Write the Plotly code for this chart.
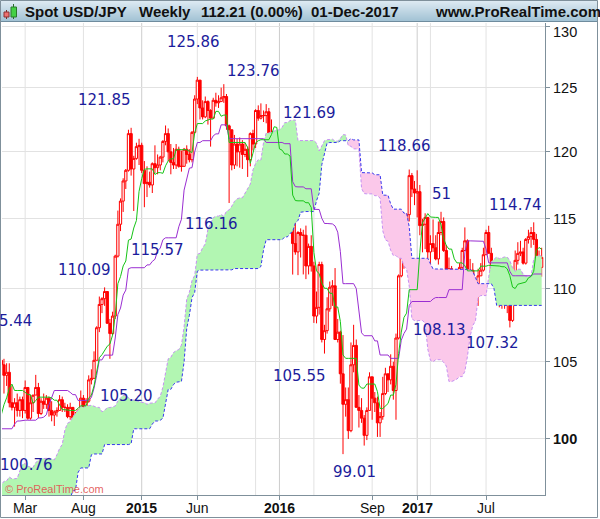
import numpy as np
import pandas as pd
import plotly.graph_objects as go

# Weekly USD/JPY bars, one list per year (weeks listed in order of their Friday close).
# 2012-2013 is off screen but feeds the 52-week Ichimoku lookback.
FIRST_MONDAY = "2012-05-28"
FIRST_OPEN = 78.6

high_2012 = [79.7, 79.6, 79.8, 80.5, 80.6, 80.0, 79.8, 79.2, 78.7, 78.6, 78.7, 79.6, 79.5, 78.9, 79.0, 78.4,
             79.2, 78.3, 78.8, 78.8, 79.4, 80.4, 80.7, 80.4, 81.6, 82.8, 82.6, 82.8, 84.3, 84.6, 86.6]
low_2012 = [77.65, 78.0, 78.5, 78.7, 79.2, 79.6, 78.9, 78.3, 77.9, 78.0, 78.2, 78.2, 78.4, 78.2, 78.2, 77.1,
            77.9, 77.4, 77.9, 78.0, 78.4, 79.2, 79.6, 79.1, 79.4, 81.0, 81.7, 81.7, 82.3, 83.3, 84.2]
close_2012 = [78.3, 79.6, 78.7, 80.4, 79.8, 79.6, 79.1, 78.5, 78.2, 78.4, 78.3, 79.5, 78.6, 78.3, 78.3, 78.3,
              78.1, 77.9, 78.7, 78.4, 79.3, 79.8, 80.0, 79.5, 81.3, 82.4, 82.5, 82.4, 83.5, 84.2, 85.9]

high_2013 = [88.4, 89.3, 90.3, 91.0, 92.8, 94.1, 94.4, 94.0, 94.8, 96.6, 96.7, 95.8, 95.1, 97.8, 99.9, 99.5,
             99.9, 99.3, 101.6, 103.3, 103.74, 102.5, 101.3, 97.9, 98.3, 99.2, 101.5, 101.5, 100.9, 100.6,
             99.9, 99.2, 98.3, 98.8, 99.2, 100.2, 100.6, 99.8, 99.5, 98.6, 98.6, 98.9, 98.5, 98.8, 99.1,
             100.4, 101.4, 102.6, 103.4, 103.7, 104.6, 105.4]
low_2013 = [85.8, 87.1, 88.0, 88.1, 90.3, 92.2, 92.2, 92.6, 90.85, 92.5, 95.0, 94.1, 93.4, 92.6, 97.6, 96.8,
            97.6, 97.1, 98.8, 101.0, 100.7, 100.4, 94.99, 93.79, 93.9, 96.7, 99.1, 98.3, 99.2, 98.3,
            97.6, 95.8, 96.4, 96.8, 96.8, 98.0, 98.9, 97.8, 98.0, 97.1, 96.9, 97.6, 97.2, 97.3, 97.6,
            98.9, 99.8, 101.0, 101.6, 102.2, 102.8, 104.0]
close_2013 = [88.1, 89.2, 90.0, 90.8, 92.7, 92.7, 93.5, 93.4, 93.6, 96.0, 95.3, 94.5, 94.2, 97.6, 99.6, 99.4,
              98.0, 99.0, 101.6, 103.2, 101.0, 100.5, 97.5, 94.1, 97.9, 99.1, 101.2, 99.2, 100.6, 98.3,
              98.9, 96.3, 97.5, 98.7, 98.1, 99.2, 99.4, 99.3, 98.3, 97.5, 98.6, 97.7, 97.4, 98.6, 99.0,
              100.2, 101.3, 102.4, 102.9, 103.2, 104.1, 105.1]

high_2014 = [105.44, 105.2, 104.9, 104.9, 103.4, 102.6, 102.9, 102.7, 102.7, 103.76, 103.3, 102.8, 102.7,
             104.13, 103.6, 102.6, 102.9, 102.8, 102.7, 102.4, 101.8, 102.0, 102.8, 102.7, 102.3, 102.2,
             102.3, 102.0, 101.7, 101.9, 103.1, 102.8, 102.6, 104.1, 104.5, 105.7, 107.4, 109.45, 109.4,
             110.09, 109.8, 107.9, 108.4, 112.4, 115.6, 116.5, 118.0, 118.7, 121.7, 121.85, 119.7, 120.7]
low_2014 = [104.1, 102.9, 103.4, 102.0, 101.8, 100.76, 101.4, 101.4, 101.3, 101.6, 101.2, 101.2, 101.7,
            102.8, 101.3, 101.5, 101.9, 101.9, 101.4, 101.1, 100.8, 101.4, 101.8, 101.7, 101.7, 101.3,
            101.2, 101.1, 101.1, 101.1, 101.8, 101.5, 102.0, 102.3, 103.5, 103.9, 105.1, 107.0, 108.3,
            108.8, 107.6, 105.20, 106.8, 107.9, 112.2, 114.1, 115.5, 117.2, 118.5, 118.2, 115.57, 119.4]
close_2014 = [104.8, 104.1, 104.3, 102.3, 102.0, 102.3, 101.8, 102.5, 101.8, 103.3, 101.3, 102.3, 102.8,
              103.3, 101.6, 102.4, 102.2, 102.6, 101.8, 101.5, 101.7, 101.8, 102.5, 102.0, 102.0, 101.4,
              102.0, 101.3, 101.3, 101.8, 102.6, 102.0, 102.4, 103.8, 103.9, 105.1, 107.3, 108.9, 109.3,
              109.8, 107.6, 106.9, 108.1, 112.3, 114.6, 116.3, 117.8, 118.6, 121.4, 118.7, 119.5, 120.4]

high_2015 = [121.0, 120.7, 119.3, 118.9, 118.5, 119.2, 120.5, 119.8, 119.7, 120.9, 122.03, 121.8, 120.6,
             120.3, 120.6, 120.4, 120.1, 120.3, 120.5, 120.2, 121.6, 124.4, 125.86, 125.1, 124.0, 124.3,
             124.0, 123.3, 124.2, 124.6, 124.4, 125.0, 125.28, 124.5, 122.1, 121.7, 121.3, 121.0, 121.1,
             120.9, 120.7, 120.4, 121.5, 121.7, 123.3, 123.6, 123.76, 123.2, 123.7, 123.4, 122.5, 121.5]
low_2015 = [119.0, 118.4, 115.85, 116.6, 117.3, 116.9, 118.4, 118.3, 118.6, 119.2, 120.5, 119.3, 118.3,
            118.7, 118.7, 118.8, 118.5, 118.9, 119.1, 119.2, 119.2, 121.4, 123.7, 122.5, 122.5, 122.6,
            122.1, 120.4, 122.6, 123.5, 123.4, 123.9, 123.8, 121.7, 116.16, 118.6, 118.7, 118.9, 118.8,
            118.7, 119.6, 118.1, 118.9, 120.1, 120.3, 122.4, 122.5, 122.3, 122.2, 120.6, 120.3, 120.2]
close_2015 = [120.5, 118.6, 117.6, 117.7, 117.5, 119.1, 118.8, 119.0, 119.6, 120.8, 121.4, 120.0, 119.2,
              119.0, 120.2, 118.9, 118.9, 120.2, 119.8, 119.4, 121.5, 124.1, 125.6, 123.4, 122.7, 123.9,
              123.2, 122.6, 124.0, 123.8, 123.9, 124.2, 124.3, 122.0, 121.7, 119.0, 120.6, 120.0, 120.6,
              119.8, 120.2, 119.4, 121.4, 120.6, 123.2, 122.6, 122.8, 122.8, 123.1, 120.9, 121.4, 120.3]

high_2016 = [120.7, 120.6, 118.3, 118.9, 121.69, 121.0, 117.5, 114.9, 114.1, 114.3, 114.2, 114.5, 113.2,
             113.8, 111.9, 109.8, 111.9, 111.9, 107.5, 109.4, 110.5, 110.6, 111.45, 107.9, 107.1, 106.8,
             103.3, 103.3, 106.3, 107.5, 106.5, 102.8, 102.6, 101.5, 102.0, 104.3, 104.0, 103.0, 102.7,
             101.7, 104.0, 104.6, 104.2, 105.5, 105.0, 106.9, 111.0, 113.9, 114.8, 115.4, 118.66, 118.4, 117.8]
low_2016 = [120.0, 116.7, 116.5, 115.97, 118.2, 116.5, 110.99, 112.4, 110.95, 112.2, 111.0, 110.67, 111.0,
            111.2, 107.63, 107.6, 108.2, 106.3, 105.55, 106.9, 108.4, 108.8, 106.5, 106.3, 103.55, 99.01,
            101.4, 99.97, 100.4, 104.3, 102.0, 100.7, 101.0, 99.55, 99.9, 101.8, 101.2, 101.7, 100.1,
            100.1, 101.2, 102.8, 103.0, 103.5, 102.5, 101.2, 106.5, 110.8, 111.4, 112.9, 114.8, 116.6, 116.0]
close_2016 = [120.2, 117.3, 117.0, 118.8, 121.1, 116.8, 113.2, 112.6, 114.0, 113.8, 113.8, 111.6, 113.0,
              111.6, 108.1, 108.7, 111.7, 106.5, 107.1, 108.6, 110.1, 110.2, 106.5, 107.0, 104.2, 102.2,
              102.5, 100.5, 104.8, 106.1, 102.0, 101.8, 101.3, 100.2, 101.8, 104.0, 102.6, 102.3, 101.0,
              101.4, 102.9, 104.2, 103.8, 104.7, 103.1, 106.6, 110.9, 113.2, 113.5, 115.3, 118.2, 117.2, 116.9]

high_2017 = [118.6, 117.5, 115.0, 115.4, 115.1, 113.8, 114.95, 113.8, 114.8, 115.51, 115.1, 113.1, 112.2,
             111.6, 111.3, 109.6, 111.8, 112.9, 114.37, 113.5, 112.1, 111.8, 110.4, 111.4, 111.8, 112.9,
             114.2, 114.49, 112.9, 111.9, 111.0, 110.9, 110.9, 109.8, 110.7, 110.3, 111.0, 112.7, 113.3,
             113.4, 112.9, 113.6, 114.2, 114.4, 114.74, 113.9, 112.7, 112.9]
low_2017 = [115.1, 113.8, 112.57, 112.8, 112.1, 111.6, 112.6, 112.0, 111.7, 113.8, 112.6, 110.6, 110.1,
            110.1, 108.7, 108.13, 109.1, 111.0, 112.7, 110.2, 110.9, 110.4, 109.1, 108.8, 110.9, 111.2,
            112.4, 112.5, 111.0, 110.6, 109.9, 108.7, 108.6, 108.6, 108.3, 107.32, 107.7, 110.7, 111.7,
            112.3, 111.7, 111.7, 113.2, 112.9, 113.1, 112.0, 111.1, 110.84]
close_2017 = [117.0, 114.5, 114.6, 115.1, 112.6, 113.2, 112.9, 112.1, 114.0, 114.8, 112.7, 111.3, 111.4,
              111.1, 108.7, 109.3, 111.5, 112.7, 113.4, 111.3, 111.3, 110.4, 110.3, 110.9, 111.3, 112.4,
              114.0, 112.5, 111.1, 110.7, 110.7, 109.2, 109.2, 109.4, 110.3, 107.8, 110.8, 112.0, 112.5,
              112.6, 111.8, 113.5, 113.7, 114.0, 113.5, 112.1, 111.5, 112.21]

# swing labels printed on the chart
label_texts = ["121.85", "125.86", "123.76", "121.69", "118.66", "51", "114.74", "5.44", "110.09",
               "115.57", "116.16", "105.20", "100.76", "105.55", "99.01", "108.13", "107.32"]

y_ticks = [100, 105, 110, 115, 120, 125, 130]
x_tick_dates = ["2014-03-03", "2014-08-04", "2015-01-05", "2015-06-01", "2016-01-04", "2016-09-05",
                "2017-01-02", "2017-07-03"]
x_tick_text = ["Mar", "Aug", "<b>2015</b>", "Jun", "<b>2016</b>", "Sep", "<b>2017</b>", "Jul"]
x_minor_grid = ["2015-11-02", "2016-04-04", "2017-02-06"]

highs = high_2012 + high_2013 + high_2014 + high_2015 + high_2016 + high_2017
lows = low_2012 + low_2013 + low_2014 + low_2015 + low_2016 + low_2017
closes = close_2012 + close_2013 + close_2014 + close_2015 + close_2016 + close_2017
opens = [FIRST_OPEN] + closes[:-1]  # FX weekly bars open where the previous week closed
dates = pd.date_range(FIRST_MONDAY, periods=len(closes), freq="W-MON")

df = pd.DataFrame({"date": dates, "open": opens, "high": highs, "low": lows, "close": closes})
tenkan = (df.high.rolling(9).max() + df.low.rolling(9).min()) / 2
kijun = (df.high.rolling(26).max() + df.low.rolling(26).min()) / 2
span_a = ((tenkan + kijun) / 2).shift(26)
span_b = ((df.high.rolling(52).max() + df.low.rolling(52).min()) / 2).shift(26)

# ---- pixel geometry of the ProRealTime frame
W, H = 600, 519
PL, PR, PT, PB = 2, 545, 23, 495


def px(x):
    return (x - PL) / (PR - PL)


def py(y):
    return (PB - y) / (PB - PT)


GREEN_FILL = "rgba(178,246,178,1)"
PINK_FILL = "rgba(251,200,234,1)"
LABEL_BLUE = "#1c1c9c"
AXIS_GREY = "#7f909b"
TICK_FONT = {"family": "Liberation Sans, Arial", "size": 14, "color": "#111"}

fig = go.Figure()

# cloud, one filled band per run of same-sign span difference
vis = (df.date >= "2013-12-16") & span_a.notna() & span_b.notna()
cd = df.date[vis].reset_index(drop=True)
ca = span_a[vis].reset_index(drop=True)
cb = span_b[vis].reset_index(drop=True)
above = ca >= cb
runs = (above != above.shift()).cumsum()
for _, idx in above.groupby(runs).groups.items():
    i0, i1 = idx.min(), min(idx.max() + 1, len(cd) - 1)
    color = GREEN_FILL if above[i0] else PINK_FILL
    fig.add_trace(go.Scatter(x=cd[i0:i1 + 1], y=cb[i0:i1 + 1], mode="lines", line={"width": 0},
                             hoverinfo="skip", showlegend=False))
    fig.add_trace(go.Scatter(x=cd[i0:i1 + 1], y=ca[i0:i1 + 1], mode="lines", line={"width": 0},
                             fill="tonexty", fillcolor=color, hoverinfo="skip", showlegend=False))

fig.add_trace(go.Scatter(x=cd, y=ca, mode="lines", line={"color": "#c690f2", "width": 1, "dash": "3px,2px"},
                         showlegend=False))
fig.add_trace(go.Scatter(x=cd, y=cb, mode="lines", line={"color": "#3838ee", "width": 1, "dash": "3px,2px"},
                         showlegend=False))

fig.add_trace(
    go.Candlestick(
        x=df.date, open=df.open, high=df.high, low=df.low, close=df.close,
        increasing={"line": {"color": "#ff0000", "width": 1}, "fillcolor": "#ffffff"},
        decreasing={"line": {"color": "#ff0000", "width": 1}, "fillcolor": "#ff0000"},
        whiskerwidth=0, showlegend=False,
    )
)
fig.add_trace(go.Scatter(x=df.date, y=kijun, mode="lines", line={"color": "#9a2ed2", "width": 1}, showlegend=False))
fig.add_trace(go.Scatter(x=df.date, y=tenkan, mode="lines", line={"color": "#16c416", "width": 1}, showlegend=False))

shapes = []
# vertical grid, year lines a shade darker
for d in x_tick_dates + x_minor_grid:
    col = "#cdcdcd" if d[5:7] == "01" else "#e2e2e2"
    shapes.append(dict(type="line", xref="x", yref="paper", x0=d, x1=d, y0=0, y1=1,
                       line={"color": col, "width": 1}, layer="below"))

# header bar with a vertical gradient
top_rgb, bot_rgb = np.array([224, 236, 244]), np.array([163, 195, 213])
for k in range(21):
    c = (top_rgb + (bot_rgb - top_rgb) * k / 20).astype(int)
    shapes.append(dict(type="rect", xref="paper", yref="paper", x0=px(0), x1=px(598), y0=py(k + 1), y1=py(k),
                       fillcolor=f"rgb({c[0]},{c[1]},{c[2]})", line={"width": 0}, layer="above"))
shapes.append(dict(type="line", xref="paper", yref="paper", x0=px(0), x1=px(598), y0=py(21.5), y1=py(21.5),
                   line={"color": "#6f8c9e", "width": 1}))
# little candle icon
shapes += [
    dict(type="line", xref="paper", yref="paper", x0=px(6.5), x1=px(6.5), y0=py(19), y1=py(10),
         line={"color": "#7a2a2a", "width": 1}),
    dict(type="rect", xref="paper", yref="paper", x0=px(4), x1=px(9), y0=py(17), y1=py(12),
         fillcolor="#ee7070", line={"color": "#8a3030", "width": 1}),
    dict(type="line", xref="paper", yref="paper", x0=px(13.5), x1=px(13.5), y0=py(19), y1=py(4),
         line={"color": "#2a6a2a", "width": 1}),
    dict(type="rect", xref="paper", yref="paper", x0=px(11), x1=px(16.5), y0=py(17), y1=py(7),
         fillcolor="#44d044", line={"color": "#2a7a2a", "width": 1}),
]
# outer frame
shapes.append(dict(type="rect", xref="paper", yref="paper", x0=px(0.5), x1=px(597.5), y0=py(517.5), y1=py(0.5),
                   line={"color": AXIS_GREY, "width": 1}, fillcolor="rgba(0,0,0,0)"))

annotations = []
header = [("<b>Spot USD/JPY</b>", 23), ("<b>Weekly</b>", 137), ("<b>112.21 (0.00%)</b>", 199),
          ("<b>01-Dec-2017</b>", 309), ("<b>www.ProRealTime.com</b>", 433)]
for text, x in header:
    annotations.append(dict(text=text, x=px(x), y=py(11.5), xref="paper", yref="paper", xanchor="left",
                            yanchor="middle", showarrow=False,
                            font={"family": "Liberation Sans, Arial", "size": 15, "color": "#111"}))

label_pos = [(104, 100), (193, 42), (253, 71), (309, 113), (404, 146), (441, 194), (515, 205), (15, 321),
             (84, 270), (157, 250), (211, 224), (126, 396), (26, 465), (299, 376), (354, 472), (439, 330),
             (492, 343)]
for text, (x, y) in zip(label_texts, label_pos):
    annotations.append(dict(text=text, x=px(x), y=py(y), xref="paper", yref="paper", xanchor="center",
                            yanchor="middle", showarrow=False,
                            font={"family": "DejaVu Sans", "size": 15, "color": LABEL_BLUE}))

# axis labels placed by hand so they sit where ProRealTime puts them
for d, text in zip(x_tick_dates, x_tick_text):
    annotations.append(dict(text=text, x=d, y=py(508), xref="x", yref="paper", xanchor="center",
                            yanchor="middle", showarrow=False, font=TICK_FONT))
for v in y_ticks:
    annotations.append(dict(text="<b>100</b>" if v == 100 else str(v), x=px(551), y=np.log10(v),
                            xref="paper", yref="y", xanchor="left", yanchor="middle", showarrow=False,
                            yshift=-6 if v == 130 else 0,
                            font={"family": "Liberation Sans, Arial", "size": 14.5, "color": "#111"}))

annotations.append(dict(text="© ProRealTime.com", x=px(3), y=py(489), xref="paper", yref="paper",
                        xanchor="left", yanchor="middle", showarrow=False,
                        font={"family": "Liberation Sans, Arial", "size": 11, "color": "rgba(226,80,80,0.9)"}))

fig.update_layout(
    width=W, height=H,
    margin={"l": PL, "r": W - PR, "t": PT, "b": H - PB, "pad": 0},
    paper_bgcolor="white", plot_bgcolor="white",
    showlegend=False, shapes=shapes, annotations=annotations,
    boxgap=0.15, boxgroupgap=0,
    xaxis={
        "type": "date", "range": ["2013-12-31 19:00", "2017-12-05 19:00"],
        "rangeslider": {"visible": False},
        "tickmode": "array", "tickvals": x_tick_dates, "ticktext": [""] * len(x_tick_dates),
        "ticks": "outside", "ticklen": 4, "tickcolor": AXIS_GREY,
        "showline": True, "linecolor": AXIS_GREY, "showgrid": False, "zeroline": False,
    },
    yaxis={
        "type": "log", "range": [np.log10(96.47), np.log10(130.25)], "side": "right",
        "tickmode": "array", "tickvals": y_ticks, "ticktext": [""] * len(y_ticks),
        "ticks": "outside", "ticklen": 4, "tickcolor": AXIS_GREY,
        "showline": True, "linecolor": AXIS_GREY, "showgrid": True, "gridcolor": "#e2e2e2",
        "zeroline": False,
    },
)

# the page's default 8px body margin would push the 600x519 figure out of the window
fig.write_html("out.html", config={"displayModeBar": False},
               post_script="document.body.style.margin='0';")
